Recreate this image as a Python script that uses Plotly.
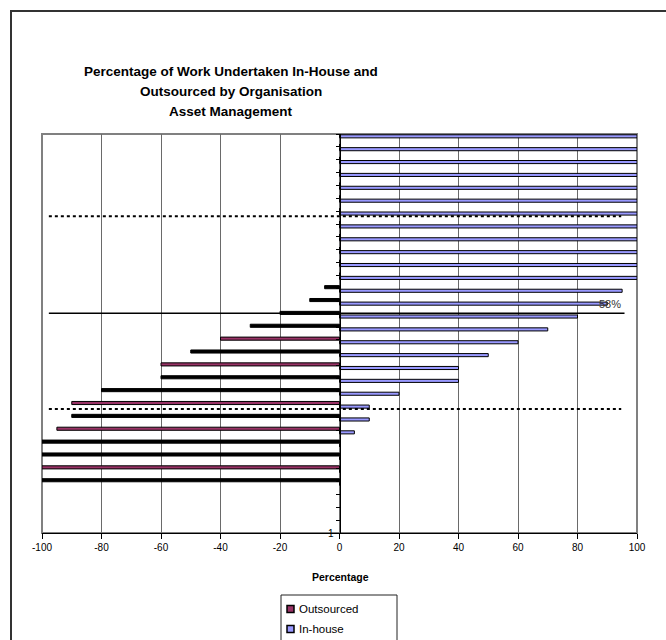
import plotly.graph_objects as go

# Organisation positions on the category axis (bottom to top)
org_no = [4, 5, 6, 7, 8, 9, 10, 11, 12, 13, 14, 15, 16, 17, 18, 19,
          20, 21, 22, 23, 24, 25, 26, 27, 28, 29, 30, 31]

# Share of asset-management work done in-house (%)
in_house = [0, 0, 0, 0, 5, 10, 10, 20, 40, 40, 50, 60, 70, 80, 90, 95,
            100, 100, 100, 100, 100, 100, 100, 100, 100, 100, 100, 100]

# Share outsourced (%), plotted to the left of zero
outsourced = [-100, -100, -100, -100, -95, -90, -90, -80, -60, -60, -50, -40, -30, -20, -10, -5,
              0, 0, 0, 0, 0, 0, 0, 0, 0, 0, 0, 0]

x_ticks = [-100, -80, -60, -40, -20, 0, 20, 40, 60, 80, 100]

MAROON = "#993366"
LAVENDER = "#9999FF"
FONT = "Arial, Liberation Sans, sans-serif"

# fill of each outsourced bar (thin bars render mostly as outline)
outsourced_fill = ["black", MAROON, "black", "black", MAROON, "black", MAROON, "black",
                   "black", MAROON, "black", MAROON, "black", "black", "black", "black"] + [MAROON] * 12

W, H = 666, 640
ML, MR, MT, MB = 42, 29, 134, 107
PW, PH = W - ML - MR, H - MT - MB


def px_x(px):
    return (px - ML) / PW


def px_y(py):
    return (H - MB - py) / PH


BAR_W = 0.24

fig = go.Figure()
fig.add_trace(go.Bar(
    y=org_no, x=outsourced, orientation="h", name="Outsourced",
    width=BAR_W, offset=0.1 - BAR_W / 2,
    marker=dict(color=outsourced_fill, line=dict(color="black", width=1)),
    showlegend=False, hoverinfo="x+y",
))
fig.add_trace(go.Bar(
    y=org_no, x=in_house, orientation="h", name="In-house",
    width=BAR_W, offset=-0.18 - BAR_W / 2,
    marker=dict(color=LAVENDER, line=dict(color="black", width=1)),
    showlegend=False, hoverinfo="x+y",
))

shapes = []
# outer chart frame
shapes.append(dict(type="rect", xref="paper", yref="paper",
                   x0=px_x(11), x1=px_x(720), y0=px_y(720), y1=px_y(11),
                   line=dict(color="#333333", width=2), layer="below"))
# plot-area frame
shapes.append(dict(type="rect", xref="paper", yref="paper",
                   x0=0, x1=1, y0=0, y1=1,
                   line=dict(color="#808080", width=2), layer="below"))
# reference lines across the bars
for yv, dash, x1 in [(24.6, "dot", 94.7), (9.64, "dot", 94.7), (17.08, "solid", 95.8)]:
    shapes.append(dict(type="line", xref="x", yref="y", x0=-97.7, x1=x1, y0=yv, y1=yv,
                       line=dict(color="black", width=2 if dash == "dot" else 1.5, dash=dash)))

# hand-drawn legend
legend_items = [("Outsourced", MAROON, 609), ("In-house", LAVENDER, 629)]
shapes.append(dict(type="rect", xref="paper", yref="paper",
                   x0=px_x(281), x1=px_x(397), y0=px_y(700), y1=px_y(595),
                   line=dict(color="#222222", width=1)))
annotations = []
for label, col, yc in legend_items:
    shapes.append(dict(type="rect", xref="paper", yref="paper",
                       x0=px_x(287), x1=px_x(294), y0=px_y(yc + 3.5), y1=px_y(yc - 3.5),
                       fillcolor=col, line=dict(color="black", width=1.5)))
    annotations.append(dict(xref="paper", yref="paper", x=px_x(297), y=px_y(yc),
                            xanchor="left", yanchor="middle", showarrow=False, text=label,
                            font=dict(family=FONT, size=11.5, color="black")))

# title lines
for txt, yc in [("Percentage of Work Undertaken In-House and", 72),
                ("Outsourced by Organisation", 92),
                ("Asset Management", 112)]:
    annotations.append(dict(xref="paper", yref="paper", x=px_x(231), y=px_y(yc),
                            xanchor="center", yanchor="middle", showarrow=False,
                            text="<b>" + txt + "</b>",
                            font=dict(family=FONT, size=13.5, color="black")))

# axis title
annotations.append(dict(xref="paper", yref="paper", x=px_x(340), y=px_y(577),
                        xanchor="center", yanchor="middle", showarrow=False,
                        text="<b>Percentage</b>", font=dict(family=FONT, size=10.5, color="black")))
# average marker label
annotations.append(dict(xref="x", yref="y", x=86.4, y=17.8, xanchor="left", yanchor="middle",
                        showarrow=False, text="58%", font=dict(family=FONT, size=11, color="#333333")))

fig.update_layout(
    width=W, height=H,
    margin=dict(l=ML, r=MR, t=MT, b=MB, pad=0),
    paper_bgcolor="white", plot_bgcolor="white",
    barmode="overlay",
    showlegend=False,
    shapes=shapes, annotations=annotations,
    font=dict(family=FONT, size=10, color="black"),
    xaxis=dict(range=[-100, 100], tickvals=x_ticks, ticktext=[str(v) for v in x_ticks],
               showgrid=True, gridcolor="#6a6a6a", gridwidth=1, zeroline=False,
               showline=True, linecolor="black", linewidth=1,
               ticks="outside", ticklen=5, tickcolor="black",
               tickfont=dict(family=FONT, size=10, color="black"), fixedrange=True),
    yaxis=dict(range=[0, 31], anchor="free", position=0.5,
               tickvals=list(range(0, 32)), ticktext=["1"] + [""] * 31,
               showgrid=False, zeroline=False,
               showline=True, linecolor="black", linewidth=1,
               ticks="outside", ticklen=4, tickcolor="black",
               tickfont=dict(family=FONT, size=10, color="black"), fixedrange=True),
)

fig.write_html("out.html")
